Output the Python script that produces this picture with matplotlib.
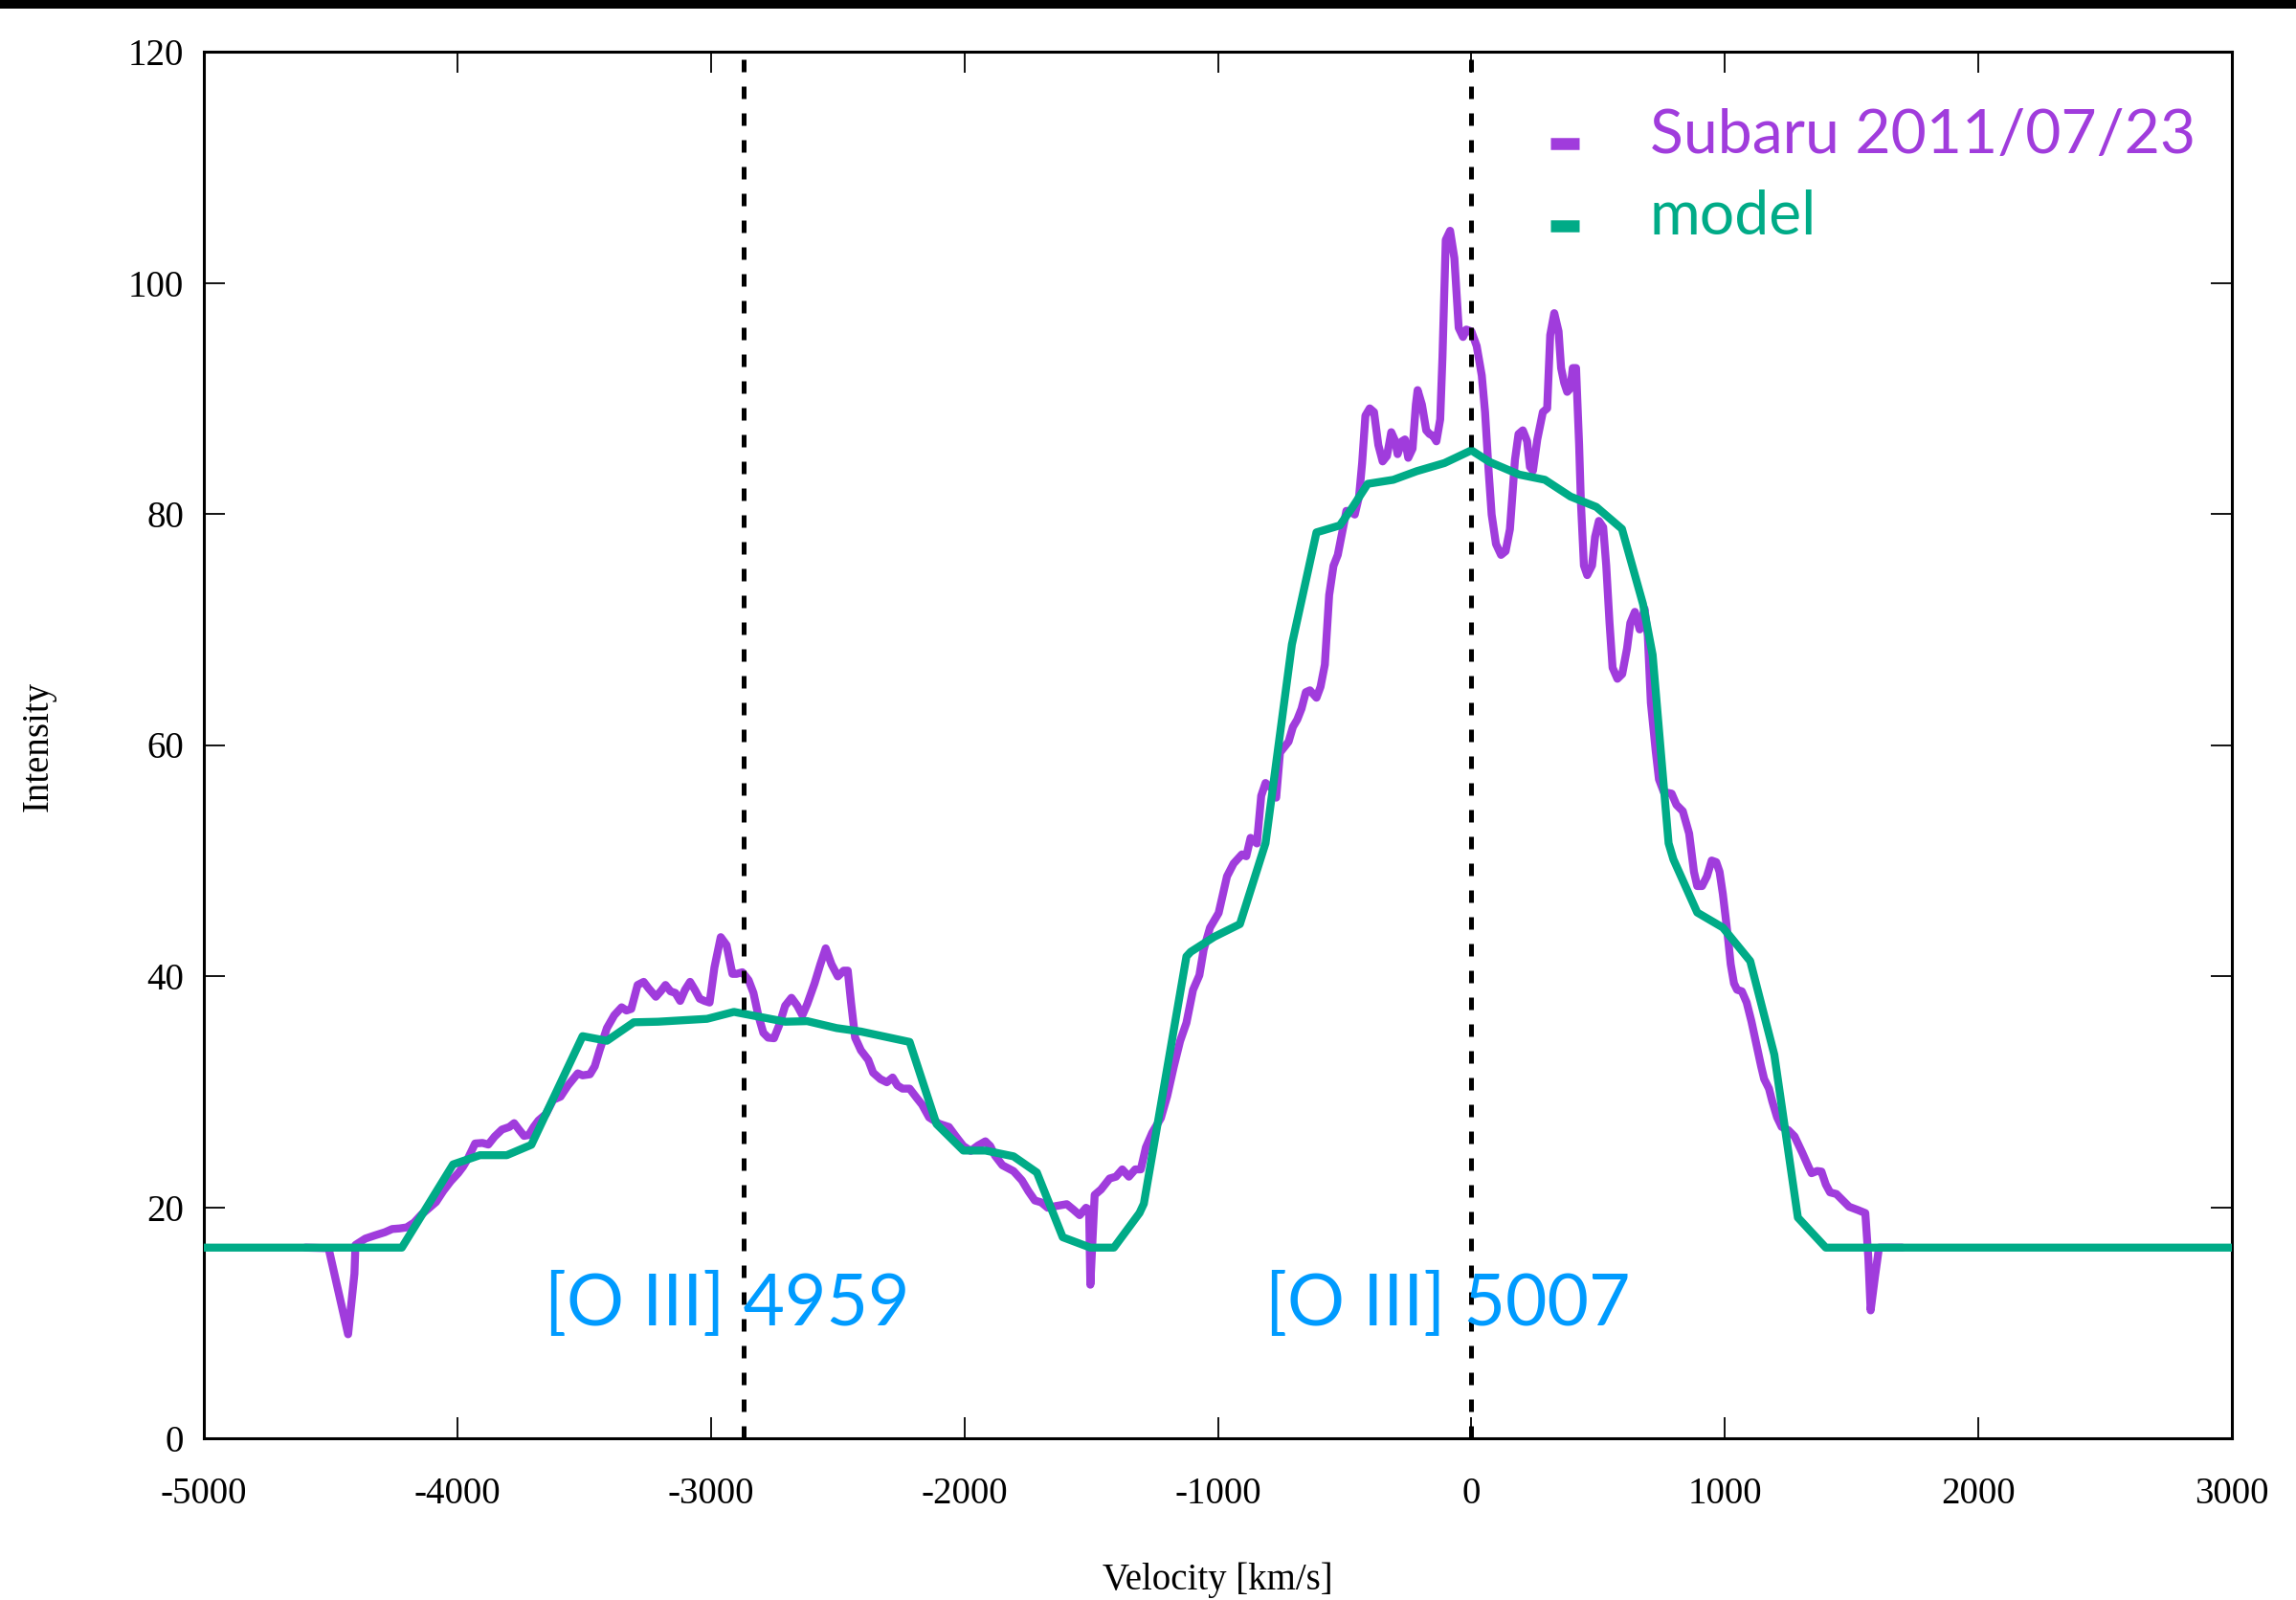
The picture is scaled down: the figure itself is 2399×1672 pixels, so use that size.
import matplotlib
matplotlib.use("Agg")
import matplotlib.pyplot as plt
from matplotlib.lines import Line2D
from matplotlib.patches import Rectangle

# Observed [O III] profile (Subaru, 2011/07/23)
vel_obs = [
    -4600, -4508, -4431, -4406, -4402, -4363, -4325, -4286, -4257, -4228,
    -4200, -4171, -4142, -4113, -4084, -4055, -4026, -3997, -3978, -3959,
    -3930, -3901, -3878, -3853, -3824, -3795, -3776, -3757, -3737, -3718,
    -3699, -3680, -3651, -3622, -3593, -3564, -3525, -3506, -3477, -3458,
    -3439, -3410, -3381, -3352, -3333, -3314, -3289, -3265, -3246, -3217,
    -3198, -3179, -3159, -3140, -3121, -3102, -3082, -3063, -3044, -3025,
    -3005, -2986, -2961, -2938, -2915, -2899, -2876, -2851, -2832, -2813,
    -2793, -2774, -2751, -2730, -2707, -2682, -2659, -2639, -2620, -2591,
    -2568, -2547, -2524, -2499, -2476, -2460, -2447, -2431, -2408, -2379,
    -2360, -2331, -2306, -2283, -2264, -2244, -2216, -2187, -2167, -2139,
    -2100, -2061, -2033, -2004, -1975, -1946, -1917, -1898, -1879, -1850,
    -1806, -1773, -1747, -1722, -1697, -1671, -1638, -1596, -1570, -1545,
    -1520, -1508, -1503, -1486, -1461, -1427, -1402, -1377, -1351, -1326,
    -1304, -1284, -1259, -1225, -1200, -1174, -1149, -1124, -1098, -1073,
    -1056, -1031, -997, -964, -938, -905, -888, -871, -846, -829,
    -812, -787, -770,
    -755, -721, -704, -687, -670, -653, -637, -611, -595, -578,
    -561, -544, -527, -510, -493, -477, -460, -443, -431, -418,
    -401, -384, -367, -350, -333, -316, -300, -291, -274, -262,
    -249, -232, -219, -212, -195, -178, -165, -151, -138, -123,
    -114, -101, -84, -67, -50, -33, -20, 0, 21, 41,
    54, 68, 80, 97, 117, 135, 152, 172, 186, 203,
    220, 231, 243, 260, 282, 299, 311, 327, 344, 354,
    366, 378, 391, 400, 413, 425,
    432, 444, 457, 476, 488, 503, 520, 532, 545, 557,
    576, 595, 614, 627, 645, 664, 683, 696, 708, 727,
    740, 759, 790, 809, 834,
    859, 878, 891, 910, 929, 948, 966, 979, 992, 1004,
    1014, 1023, 1036, 1048, 1067, 1086, 1105, 1124, 1143, 1155,
    1174, 1187, 1206, 1224, 1250, 1275,
    1305, 1330, 1342, 1364, 1381, 1398, 1415, 1440, 1465, 1490,
    1524, 1554, 1566, 1575, 1592, 1608, 1700,
]
int_obs = [
    16.5, 16.45, 9.0, 14.24, 16.73, 17.28, 17.56, 17.83, 18.11, 18.16,
    18.25, 18.66, 19.35, 19.90, 20.45, 21.42, 22.25, 22.94, 23.49, 24.18,
    25.51, 25.56, 25.42, 26.11, 26.72, 26.94, 27.27, 26.72, 26.17, 26.25,
    26.94, 27.50, 28.05, 29.29, 29.57, 30.53, 31.58, 31.41, 31.50, 32.19,
    33.57, 35.50, 36.61, 37.30, 37.02, 37.16, 39.23, 39.50, 38.95, 38.21,
    38.68, 39.23, 38.68, 38.54, 37.85, 38.81, 39.50, 38.81, 38.04, 37.85,
    37.71, 40.74, 43.37, 42.68, 40.19, 40.19, 40.33, 39.64, 38.54, 36.61,
    35.09, 34.67, 34.62, 35.78, 37.43, 38.12, 37.43, 36.61, 37.57, 39.36,
    41.02, 42.40, 41.02, 39.97, 40.47, 40.47, 37.71, 34.67, 33.57, 32.74,
    31.64, 31.08, 30.81, 31.22, 30.53, 30.26, 30.26, 29.43, 28.88, 27.77,
    27.22, 26.94, 26.11, 25.29, 24.87, 25.34, 25.70, 25.29, 24.46, 23.63,
    23.12, 22.32, 21.37, 20.58, 20.42, 19.95, 20.10, 20.26, 19.79, 19.31,
    19.95, 19.79, 13.29, 21.06, 21.53, 22.48, 22.64, 23.27, 22.64, 23.27,
    23.27, 25.17, 26.44, 27.71, 29.61, 32.15, 34.37, 35.95, 38.80, 40.07,
    42.29, 44.19, 45.46, 48.63, 49.74, 50.53, 50.37, 51.96, 51.48, 55.60,
    56.71, 56.24, 55.44,
    59.34, 60.29, 61.56, 62.19, 63.14, 64.57, 64.73, 64.09, 65.04, 66.95,
    72.97, 75.50, 76.45, 78.35, 80.26, 80.19, 79.94, 81.52, 84.38, 88.50,
    89.13, 88.81, 85.96, 84.54, 85.01, 87.07, 86.28, 85.17, 86.28, 86.44,
    84.85, 85.64, 89.45, 90.71, 89.45, 87.23, 86.91, 86.75, 86.28, 88.18,
    93.57, 103.71, 104.50, 102.13, 96.10, 95.31, 95.95, 95.79, 94.52, 91.98,
    88.81, 83.74, 79.94, 77.40, 76.45, 76.77, 78.67, 84.69, 86.91, 87.23,
    86.28, 84.06, 83.74, 86.44, 88.81, 89.13, 95.47, 97.37, 95.79, 92.62,
    91.35, 90.56, 90.87, 92.62, 92.62, 86.0,
    81.05, 75.53, 74.70, 75.53, 78.01, 79.39, 78.84, 75.53, 70.56, 66.69,
    65.73, 66.14, 68.35, 70.56, 71.52, 70.00, 71.80, 69.45, 63.66, 59.51,
    57.03, 55.93, 55.79, 54.82, 54.27,
    52.34, 49.03, 47.79, 47.79, 48.62, 50.0, 49.86, 49.03, 47.10, 44.89,
    42.96, 41.03, 39.37, 38.82, 38.68, 37.71, 36.06, 34.12, 32.19, 31.09,
    30.26, 29.16, 27.78, 26.95, 26.67, 26.12,
    24.73, 23.49, 22.94, 23.13, 23.08, 21.97, 21.28, 21.14, 20.59, 20.04,
    19.76, 19.49, 15.62, 11.07, 13.97, 16.5, 16.5,
]

# Model profile
vel_model = [
    -5000, -4219, -4017, -3911, -3805, -3708, -3506, -3410, -3304, -3208,
    -3015, -2909, -2707, -2620, -2504, -2408, -2216, -2110, -2004, -1917,
    -1806, -1714, -1612, -1503, -1410, -1309, -1292, -1124, -1107, -1014,
    -913, -812, -708, -611, -519, -468, -409, -308, -215, -106,
    0, 71, 189, 290, 391, 493, 594, 677, 715, 778,
    797, 891, 992, 1100, 1195, 1288, 1398, 3000,
]
int_model = [
    16.5, 16.5, 23.7, 24.5, 24.5, 25.4, 34.8, 34.4, 36.0, 36.05,
    36.3, 36.9, 36.05, 36.1, 35.5, 35.2, 34.3, 27.2, 24.9, 24.9,
    24.4, 23.0, 17.4, 16.5, 16.5, 19.5, 20.3, 41.7, 42.1, 43.4,
    44.5, 51.5, 68.7, 78.4, 79.0, 80.6, 82.6, 82.95, 83.7, 84.4,
    85.5, 84.5, 83.4, 82.95, 81.5, 80.6, 78.7, 72.2, 67.8, 51.5,
    50.1, 45.5, 44.2, 41.3, 33.2, 19.1, 16.5, 16.5,
]

# rest positions of the two [O III] lines, relative to 5007
line_vel = [-2870, 0]
line_names = ["[O III] 4959", "[O III] 5007"]
line_label_x = [-3655, -815]

x_ticks = list(range(-5000, 3001, 1000))
y_ticks = list(range(0, 121, 20))

purple = "#A03CDC"
green = "#00AB87"
blue = "#009BFF"
serif = "Liberation Serif"
sans = "Lato"

W, H = 2399, 1672
fig = plt.figure(figsize=(W / 100, H / 100), dpi=100)
ax = fig.add_axes([213 / W, 1 - 1503 / H, 2119 / W, 1449 / H])

ax.plot(vel_obs, int_obs, color=purple, lw=6, solid_joinstyle="round",
        solid_capstyle="round", zorder=3)
ax.plot(vel_model, int_model, color=green, lw=6, solid_joinstyle="round",
        solid_capstyle="round", zorder=4)

for v in line_vel:
    ax.axvline(v, color="black", lw=3.6, ls=(0, (2.6, 3.0)), zorder=5)

for x, name in zip(line_label_x, line_names):
    ax.text(x, 9.77, name, color=blue, fontsize=54, family=sans,
            ha="left", va="baseline", zorder=6)

ax.set_xlim(-5000, 3000)
ax.set_ylim(0, 120)
ax.set_xticks(x_ticks)
ax.set_yticks(y_ticks)
ax.set_xticklabels([str(t) for t in x_ticks])
ax.set_yticklabels([str(t) for t in y_ticks])
for lab in ax.get_xticklabels() + ax.get_yticklabels():
    lab.set_family(serif)
    lab.set_fontsize(28)
ax.tick_params(direction="in", length=15.5, width=1.3, top=True, right=True)
ax.tick_params(axis="x", pad=29)
ax.tick_params(axis="y", pad=15)
for sp in ax.spines.values():
    sp.set_linewidth(2.2)

fig.text(1272.5 / W, 1 - 1661 / H, "Velocity [km/s]", family=serif,
         fontsize=28, ha="center", va="baseline")
fig.text(40 / W, 1 - 780 / H, "Intensity", family=serif, fontsize=28,
         rotation=90, ha="center", va="center")

# key: short thick dash plus coloured label
key = [("Subaru 2011/07/23", purple, 149.5, 160), ("model", green, 235.5, 245)]
for label, col, y_mark, y_base in key:
    fig.add_artist(Line2D([1620 / W, 1650 / W], [1 - y_mark / H, 1 - y_mark / H],
                          color=col, lw=9, solid_capstyle="butt",
                          transform=fig.transFigure))
    fig.text(1724 / W, 1 - y_base / H, label, color=col, fontsize=46.3,
             family=sans, ha="left", va="baseline")

# black strip along the top edge
fig.add_artist(Rectangle((0, 1 - 8.5 / H), 1, 8.5 / H, transform=fig.transFigure,
                         color="black", lw=0))

fig.savefig("out.png", dpi=100)
